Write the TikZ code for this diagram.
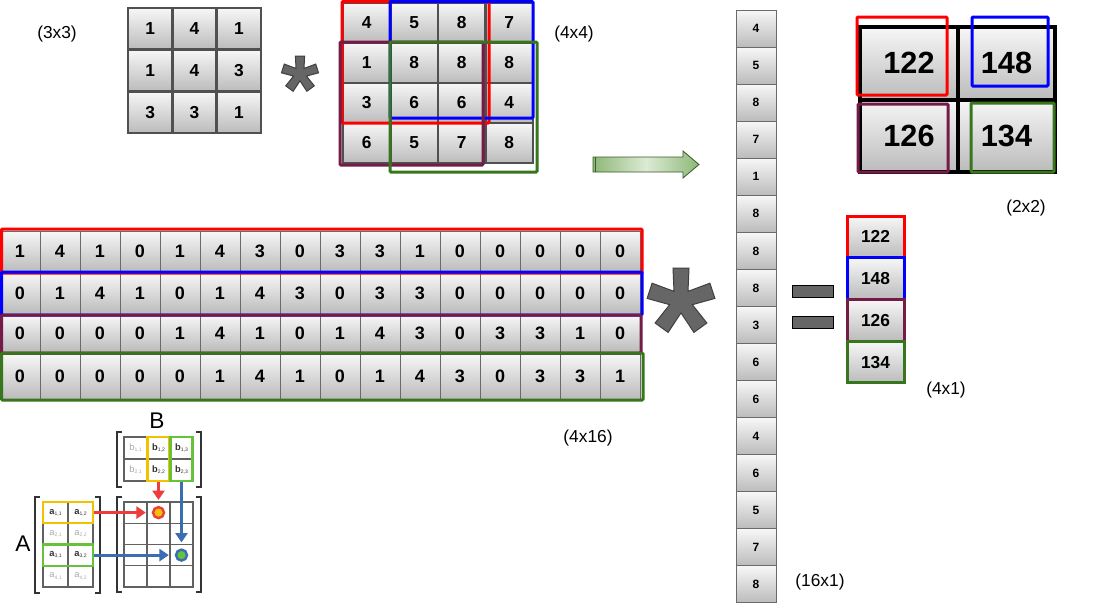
\documentclass[tikz,border=0pt]{standalone}
\usepackage{fontspec}
\setmainfont{Liberation Sans}
\usetikzlibrary{calc,arrows.meta}
\definecolor{celltop}{HTML}{F7F7F7}
\definecolor{cellbot}{HTML}{BBBBBB}
\definecolor{gridgray}{HTML}{505050}
\definecolor{lightgrid}{HTML}{6A6A6A}
\definecolor{hlred}{HTML}{FF0000}
\definecolor{hlblue}{HTML}{0000FF}
\definecolor{hlpurple}{HTML}{741B47}
\definecolor{hlgreen}{HTML}{38761D}
\definecolor{astgray}{HTML}{666666}
\definecolor{arrgreenA}{HTML}{8DB878}
\definecolor{arrgreenB}{HTML}{DCEBD4}
\definecolor{arrline}{HTML}{3A5A2A}
\definecolor{insred}{HTML}{EE3B3B}
\definecolor{insblue}{HTML}{3B6DB3}
\definecolor{insyellow}{HTML}{F2C200}
\definecolor{insgreen}{HTML}{66C23A}
\definecolor{insgray}{HTML}{AAAAAA}
\definecolor{insdark}{HTML}{333333}

\newcommand\insub[1]{\raisebox{-1pt}{\fontsize{3.8}{4}\selectfont #1}}
\newcommand\mkwrow[4]{%
  \foreach \v [count=\ci] in {#1} {
    \node[wcell, minimum height=#4*0.75pt] (w-#2-\ci) at ({40*\ci-20},#3) {\v};
  }}
\newcommand\mkast[4]{%
  \filldraw[astk] ($(#1)+(-90:#2)+(-180:#4)$)
    \foreach \k in {0,...,4}{
      -- ($(#1)+({-90+72*\k}:#2)+({-180+72*\k}:#4)$)
      -- ($(#1)+({-90+72*\k}:#2)+({72*\k}:#4)$)
      -- ($(#1)+({-54+72*\k}:{#3*1.7013})$)
    } -- cycle;}

\begin{document}
\begin{tikzpicture}[x=0.75pt,y=-0.75pt,
  cellbase/.style={top color=celltop, bottom color=cellbot, inner sep=0pt, text=black},
  kcell/.style={cellbase, draw=gridgray, line width=2.2pt, minimum width=44.33*0.75pt, minimum height=41.67*0.75pt, font=\fontsize{13}{13}\selectfont\bfseries},
  icell/.style={cellbase, draw=gridgray, line width=1.8pt, minimum width=47.5*0.75pt, minimum height=40*0.75pt, font=\fontsize{13}{13}\selectfont\bfseries},
  vcell/.style={cellbase, draw=lightgrid, line width=0.75pt, minimum width=40*0.75pt, minimum height=37.06*0.75pt, font=\fontsize{9}{9}\selectfont\bfseries},
  wcell/.style={cellbase, draw=lightgrid, line width=0.75pt, minimum width=40*0.75pt, font=\fontsize{13.5}{13.5}\selectfont\bfseries},
  rcell/.style={cellbase, draw=black, line width=3pt, minimum width=97.5*0.75pt, minimum height=72.5*0.75pt, font=\fontsize{23}{23}\selectfont\bfseries},
  ocell/.style={cellbase, line width=2.25pt, minimum width=57*0.75pt, minimum height=41.75*0.75pt, font=\fontsize{13}{13}\selectfont\bfseries},
  hl/.style={line width=2.25pt, rounded corners=0.8pt},
  lbl/.style={inner sep=0pt, font=\fontsize{13}{13}\selectfont},
  astk/.style={fill=astgray, draw=black!75, line width=0.75pt, line join=miter},
  eqbar/.style={draw=black, fill=astgray, line width=0.75pt, minimum width=41*0.75pt, minimum height=12*0.75pt, inner sep=0pt},
  gcell/.style={draw=gridgray!90, line width=0.8pt, inner sep=0pt},
  itxt/.style={inner sep=0pt, font=\fontsize{7}{7}\selectfont},
  hbox/.style={line width=1.6pt, inner sep=0pt},
  brk/.style={draw=insdark, line width=1.2pt},
  inarrow/.style={line width=2.4pt, -{Triangle[length=7pt,width=9pt]}, shorten >=4.5pt},
  dot/.style={circle, line width=1.8pt, minimum size=11*0.75pt, inner sep=0pt}
]
\useasboundingbox (0,0) rectangle (1114,614);
\fill[white] (0,0) rectangle (1114,614);

% ---- 3x3 kernel
\foreach \row [count=\ri] in {{1,4,1},{1,4,3},{3,3,1}} {
  \foreach \v [count=\ci] in \row {
    \node[kcell] (k-\ri-\ci) at ({128+44.33*(\ci-0.5)},{8+41.67*(\ri-0.5)}) {\v};
  }
}
\node[lbl] (l33) at (57,34) {(3x3)};

% ---- small asterisk
\coordinate (astS) at (300,74);
\mkast{astS}{18}{4}{4.6}

% ---- 4x4 input
\foreach \row [count=\ri] in {{4,5,8,7},{1,8,8,8},{3,6,6,4},{6,5,7,8}} {
  \foreach \v [count=\ci] in \row {
    \node[icell] (i-\ri-\ci) at ({343+47.5*(\ci-0.5)},{3+40*(\ri-0.5)}) {\v};
  }
}
\draw[hl, hlred] (342,1.5) rectangle (489,123);
\draw[hl, hlblue] (390,1.5) rectangle (533,118);
\draw[hl, hlpurple] (340,42) rectangle (483,165);
\draw[hl, hlgreen] (390,42) rectangle (537,172);
\node[lbl] (l44) at (574,34) {(4x4)};

% ---- green arrow
\shadedraw[left color=arrgreenA, right color=arrgreenA, middle color=arrgreenB, draw=arrline, line width=0.6pt]
  (593,157) -- (683,157) -- (683,151) -- (699,164.5) -- (683,178) -- (683,172) -- (593,172) -- cycle;
\draw[arrline, line width=0.8pt] (595.5,157) -- (595.5,172);

% ---- 16x1 vector
\foreach \v [count=\ci] in {4,5,8,7,1,8,8,8,3,6,6,4,6,5,7,8} {
  \node[vcell] (v-\ci) at (756,{10+37.06*(\ci-0.5)}) {\v};
}
\node[lbl] (l161) at (820,582) {(16x1)};

% ---- 2x2 result
\node[rcell] (r-1-1) at (909,63.25) {122};
\node[rcell] (r-1-2) at (1006.5,63.25) {148};
\node[rcell] (r-2-1) at (909,135.75) {126};
\node[rcell] (r-2-2) at (1006.5,135.75) {134};
\draw[hl, hlred] (857,17) rectangle (947,95);
\draw[hl, hlblue] (972,17) rectangle (1048,86);
\draw[hl, hlpurple] (858,104) rectangle (948,172);
\draw[hl, hlgreen] (971,103) rectangle (1054,172);
\node[lbl] (l22) at (1026,208) {(2x2)};

% ---- 4x16 matrix
\mkwrow{1,4,1,0,1,4,3,0,3,3,1,0,0,0,0,0}{1}{251.5}{41}
\mkwrow{0,1,4,1,0,1,4,3,0,3,3,0,0,0,0,0}{2}{293.5}{41}
\mkwrow{0,0,0,0,1,4,1,0,1,4,3,0,3,3,1,0}{3}{333.5}{37}
\mkwrow{0,0,0,0,0,1,4,1,0,1,4,3,0,3,3,1}{4}{376.5}{45}
\draw[hl, hlred] (1.5,229) rectangle (642,273);
\draw[hl, hlblue] (1.5,272) rectangle (642,315);
\draw[hl, hlpurple] (1.5,315) rectangle (641,353);
\draw[hl, hlgreen] (1.5,353) rectangle (643,400);
\node[lbl] (l416) at (588,438) {(4x16)};

% ---- big asterisk
\coordinate (astB) at (681,301);
\mkast{astB}{33}{7}{8}

% ---- equals
\node[eqbar] (eq1) at (812.5,291) {};
\node[eqbar] (eq2) at (812.5,322) {};

% ---- 4x1 result
\node[ocell, draw=hlred] (o-1) at (875.5,236.9) {122};
\node[ocell, draw=hlblue] (o-2) at (875.5,278.6) {148};
\node[ocell, draw=hlpurple] (o-3) at (875.5,320.4) {126};
\node[ocell, draw=hlgreen] (o-4) at (875.5,362.1) {134};
\node[lbl] (l41) at (946,390) {(4x1)};

% ---- inset: matrix product illustration
% B
\foreach \ri/\yc in {1/448,2/470} {
  \foreach \ci/\xc in {1/135.5,2/158.5,3/181.5} {
    \node[gcell, minimum width=23*0.75pt, minimum height=22*0.75pt] (b-\ri-\ci) at (\xc,\yc) {};
  }
}
\node[itxt, text=insgray] (tb11) at (b-1-1) {b\insub{1,1}};
\node[itxt, text=insgray] (tb21) at (b-2-1) {b\insub{2,1}};
\node[itxt, text=insdark] (tb12) at (b-1-2) {\textbf{b}\insub{1,2}};
\node[itxt, text=insdark] (tb22) at (b-2-2) {\textbf{b}\insub{2,2}};
\node[itxt, text=insdark] (tb13) at (b-1-3) {\textbf{b}\insub{1,3}};
\node[itxt, text=insdark] (tb23) at (b-2-3) {\textbf{b}\insub{2,3}};
\node[hbox, draw=insyellow, minimum width=22*0.75pt, minimum height=44*0.75pt] (By) at (158.5,459) {};
\node[hbox, draw=insgreen, minimum width=22*0.75pt, minimum height=44*0.75pt] (Bg) at (181.5,459) {};
\draw[brk] (122,432) -- (117,432) -- (117,487) -- (122,487);
\draw[brk] (196,432) -- (201,432) -- (201,487) -- (196,487);
\node[inner sep=0pt, font=\fontsize{17}{17}\selectfont] (lB) at (157,421) {B};

% A
\foreach \ri/\yc in {1/512.6,2/533.9,3/555.1,4/576.4} {
  \foreach \ci/\xc in {1/55.5,2/80.5} {
    \node[gcell, minimum width=25*0.75pt, minimum height=21.25*0.75pt] (a-\ri-\ci) at (\xc,\yc) {};
  }
}
\foreach \ri/\cc/\ww in {1/insdark/\bfseries,2/insgray/,3/insdark/\bfseries,4/insgray/} {
  \foreach \ci in {1,2} {
    \node[itxt, text=\cc] (ta-\ri-\ci) at (a-\ri-\ci) {{\ww a}\insub{\ri,\ci}};
  }
}
\node[hbox, draw=insyellow, minimum width=50*0.75pt, minimum height=21.25*0.75pt] (Ay) at (68,512.6) {};
\node[hbox, draw=insgreen, minimum width=50*0.75pt, minimum height=21.25*0.75pt] (Ag) at (68,555.1) {};
\draw[brk] (40,497) -- (35,497) -- (35,593) -- (40,593);
\draw[brk] (95,497) -- (100,497) -- (100,593) -- (95,593);
\node[inner sep=0pt, font=\fontsize{17}{17}\selectfont] (lA) at (23,544) {A};

% C
\foreach \ri/\yc in {1/512.6,2/533.9,3/555.1,4/576.4} {
  \foreach \ci/\xc in {1/135.5,2/158.5,3/181.5} {
    \node[gcell, minimum width=23*0.75pt, minimum height=21.25*0.75pt] (c-\ri-\ci) at (\xc,\yc) {};
  }
}
\draw[brk] (122,497) -- (117,497) -- (117,592) -- (122,592);
\draw[brk] (196,497) -- (201,497) -- (201,592) -- (196,592);

\node[dot, fill=insyellow, draw=insred] (cy) at (158.5,512.6) {};
\node[dot, fill=insgreen, draw=insblue] (cg) at (181.5,555.1) {};
\draw[inarrow, insred] (Ay.east) -- (cy.west);
\draw[inarrow, insred] (By.south) -- (cy.north);
\draw[inarrow, insblue] (Bg.south) -- (cg.north);
\draw[inarrow, insblue] (Ag.east) -- (cg.west);
\end{tikzpicture}
\end{document}
